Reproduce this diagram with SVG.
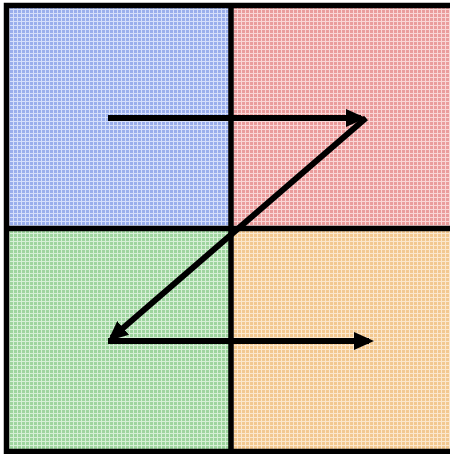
<svg xmlns="http://www.w3.org/2000/svg" width="450" height="454" viewBox="0 0 450 454">
<style>
.edge{fill:none;stroke:#000;stroke-width:5.5}
.conn{fill:none;stroke:#000;stroke-width:6;marker-end:url(#ah)}
</style>
<defs>
<marker id="ah" markerUnits="userSpaceOnUse" viewBox="0 0 20 18" markerWidth="20" markerHeight="18" refX="15" refY="9" orient="auto">
<path d="M0,0 L20,9 L0,18 z" fill="#000"/>
</marker>
<pattern id="pb" width="4" height="4" patternUnits="userSpaceOnUse"><rect width="4" height="4" fill="#9aaeec"/><rect y="1" width="4" height="1" fill="#d6dffa"/><rect x="1" width="1" height="4" fill="#d6dffa"/></pattern>
<pattern id="pr" width="4" height="4" patternUnits="userSpaceOnUse"><rect width="4" height="4" fill="#ea9c9c"/><rect y="1" width="4" height="1" fill="#f9d6d6"/><rect x="1" width="1" height="4" fill="#f9d6d6"/></pattern>
<pattern id="pg" width="4" height="4" patternUnits="userSpaceOnUse"><rect width="4" height="4" fill="#9ed49e"/><rect y="1" width="4" height="1" fill="#d6efd6"/><rect x="1" width="1" height="4" fill="#d6efd6"/></pattern>
<pattern id="po" width="4" height="4" patternUnits="userSpaceOnUse"><rect width="4" height="4" fill="#f2c890"/><rect y="1" width="4" height="1" fill="#fbe7cd"/><rect x="1" width="1" height="4" fill="#fbe7cd"/></pattern>
</defs>
<rect width="450" height="454" fill="#fff"/>
<g id="q-blue"><rect x="6.5" y="5.5" width="224.5" height="223" fill="url(#pb)"/></g>
<g id="q-red"><rect x="231" y="5.5" width="219" height="223" fill="url(#pr)"/></g>
<g id="q-green"><rect x="6.5" y="228.5" width="224.5" height="223" fill="url(#pg)"/></g>
<g id="q-orange"><rect x="231" y="228.5" width="219" height="223" fill="url(#po)"/></g>
<g id="frame">
<path class="edge" d="M450,5.5 H6.5 V451.5 H450"/>
<line class="edge" x1="231" y1="3" x2="231" y2="454"/>
<line class="edge" x1="4" y1="228.5" x2="450" y2="228.5"/>
</g>
<g id="connectors">
<line class="conn" x1="108" y1="118" x2="361" y2="118"/>
<line class="conn" x1="366" y1="118" x2="111.8" y2="337.7"/>
<line class="conn" x1="108" y1="341" x2="369" y2="341"/>
</g>
</svg>
